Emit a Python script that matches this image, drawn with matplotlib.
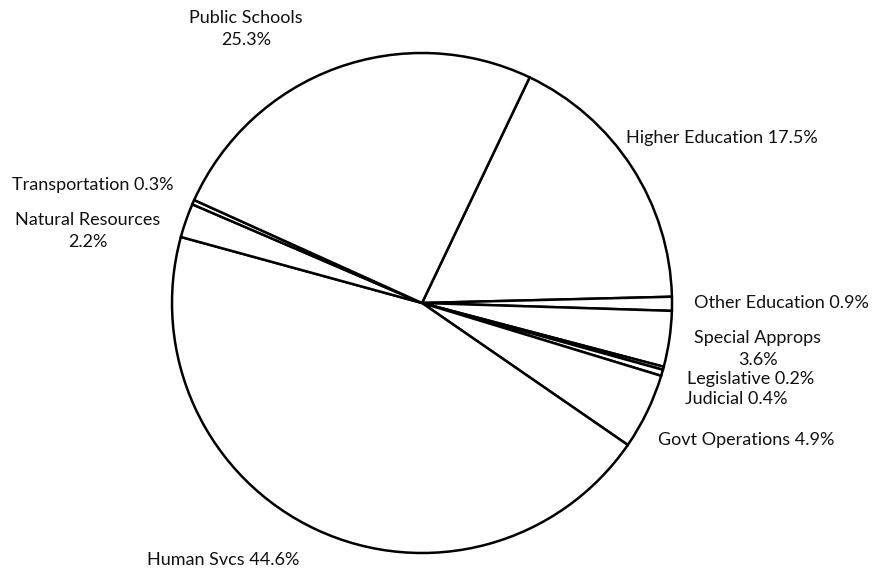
import matplotlib.pyplot as plt

# 预算分配 (按顺时针顺序)
categories = ['Higher Education', 'Other Education', 'Special Approps', 'Legislative',
              'Judicial', 'Govt Operations', 'Human Svcs', 'Natural Resources',
              'Transportation', 'Public Schools']
shares = [17.5, 0.9, 3.6, 0.2, 0.4, 4.9, 44.6, 2.2, 0.3, 25.3]

# 标签换行方式与位置 (像素坐标, y 从上往下)
label_breaks = [' ', ' ', '\n', ' ', ' ', ' ', ' ', '\n', ' ', '\n']
label_pos = [(722, 138), (781, 303), (758, 349), (751, 379), (736, 399),
             (746, 440), (223, 560), (88, 231), (93, 185), (246, 29)]

W, H = 887, 571
plt.rcParams['font.family'] = ['Lato', 'DejaVu Sans']

fig = plt.figure(figsize=(W / 100, H / 100), dpi=100)
ax = fig.add_axes([0, 0, 1, 1])

ax.pie(shares, startangle=64.5, counterclock=False, center=(422, H - 303), radius=250,
       colors=['white'] * len(shares),
       wedgeprops=dict(edgecolor='black', linewidth=1.8))

for name, v, sep, (x, y) in zip(categories, shares, label_breaks, label_pos):
    ax.text(x, H - y, f'{name}{sep}{v}%', ha='center', va='center',
            fontsize=13, color='#111111', linespacing=1.45)

ax.set_xlim(0, W)
ax.set_ylim(0, H)
ax.set_aspect('equal')
ax.axis('off')

fig.savefig('out.png', dpi=100, facecolor='white')
